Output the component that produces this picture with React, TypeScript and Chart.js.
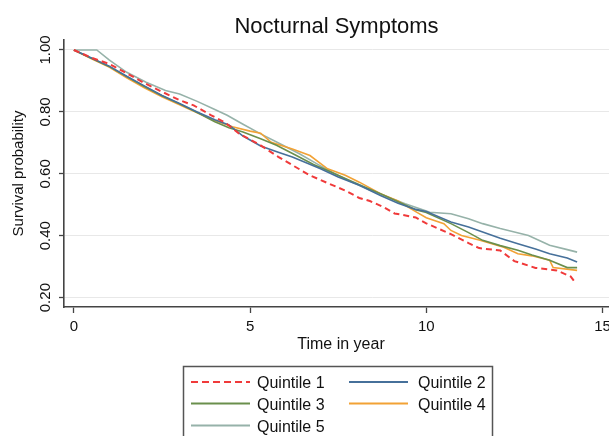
import React, { useEffect, useRef } from "react";
import { Chart, registerables } from "chart.js";

Chart.register(...registerables);

const FONT = '"Liberation Sans", Arial, Helvetica, sans-serif';

const titleText = "Nocturnal Symptoms";
const xTitle = "Time in year";
const yTitle = "Survival probability";

const seriesNames = ["Quintile 1", "Quintile 2", "Quintile 3", "Quintile 4", "Quintile 5"];
const seriesColors = ["#f03a3a", "#46709a", "#6a8f4c", "#f2a235", "#96b2a9"];

const xTicks = [0, 5, 10, 15];
const xTickLabels = ["0", "5", "10", "15"];
const yTicks = [0.2, 0.4, 0.6, 0.8, 1.0];
const yTickLabels = ["0.20", "0.40", "0.60", "0.80", "1.00"];

// Quintile 1
const q1Time = [0, 0.5, 1.0, 1.5, 2.0, 2.5, 3.0, 3.4, 3.9, 4.3, 4.7, 5.3, 5.8, 6.2, 6.7, 7.2, 7.7, 8.1, 8.4, 8.8, 9.1, 9.7, 10.0, 10.4, 10.7, 11.2, 11.5, 12.1, 12.5, 13.1, 13.7, 14.1, 14.25];
const q1Surv = [1.0, 0.975, 0.955, 0.925, 0.893, 0.865, 0.838, 0.821, 0.789, 0.765, 0.729, 0.692, 0.655, 0.628, 0.595, 0.57, 0.546, 0.522, 0.512, 0.492, 0.472, 0.459, 0.44, 0.42, 0.405, 0.376, 0.36, 0.352, 0.318, 0.296, 0.288, 0.268, 0.245];
// Quintile 2
const q2Time = [0, 0.5, 1, 1.5, 2, 2.5, 3, 3.5, 4, 4.4, 4.8, 5.3, 5.8, 6.2, 7.0, 7.5, 8.1, 8.7, 9.2, 9.7, 10.0, 10.7, 11.2, 11.6, 12.1, 12.6, 13.1, 13.5, 14.0, 14.28];
const q2Surv = [1, 0.974, 0.948, 0.915, 0.884, 0.853, 0.827, 0.8, 0.775, 0.758, 0.722, 0.69, 0.67, 0.654, 0.616, 0.59, 0.563, 0.53, 0.505, 0.485, 0.478, 0.444, 0.428, 0.412, 0.392, 0.374, 0.357, 0.342, 0.328, 0.315];
// Quintile 3
const q3Time = [0, 0.5, 1, 1.5, 2, 2.5, 3, 3.5, 4, 4.4, 4.8, 5.3, 5.75, 6.3, 6.8, 7.2, 7.7, 8.2, 8.7, 9.2, 9.7, 10.0, 10.7, 11.2, 11.6, 12.1, 12.6, 13.0, 13.5, 14.0, 14.28];
const q3Surv = [1, 0.973, 0.947, 0.914, 0.882, 0.852, 0.826, 0.798, 0.768, 0.749, 0.735, 0.713, 0.692, 0.66, 0.63, 0.611, 0.585, 0.56, 0.536, 0.51, 0.484, 0.475, 0.439, 0.41, 0.385, 0.368, 0.353, 0.338, 0.321, 0.297, 0.297];
// Quintile 4
const q4Time = [0, 0.5, 1, 1.5, 2, 2.5, 3, 3.5, 4, 4.5, 5, 5.3, 5.6, 6.2, 6.7, 7.2, 7.7, 8.1, 8.7, 9.2, 9.7, 10.0, 10.5, 10.7, 11.0, 11.5, 12.2, 12.6, 13.0, 13.5, 13.6, 14.28];
const q4Surv = [1, 0.972, 0.945, 0.91, 0.878, 0.849, 0.823, 0.797, 0.772, 0.752, 0.738, 0.731, 0.702, 0.68, 0.659, 0.616, 0.595, 0.573, 0.536, 0.512, 0.478, 0.458, 0.439, 0.417, 0.401, 0.386, 0.363, 0.342, 0.335, 0.321, 0.297, 0.288];
// Quintile 5
const q5Time = [0, 0.65, 1.0, 1.5, 2.05, 2.6, 3.0, 3.5, 4.0, 4.35, 4.8, 5.3, 5.85, 6.4, 6.9, 7.4, 7.9, 8.4, 8.9, 9.4, 9.9, 10.1, 10.7, 11.2, 11.6, 12.1, 12.9, 13.3, 13.5, 14.0, 14.28];
const q5Surv = [1, 1.0, 0.968, 0.928, 0.896, 0.869, 0.858, 0.834, 0.808, 0.789, 0.76, 0.729, 0.697, 0.665, 0.632, 0.6, 0.573, 0.548, 0.525, 0.503, 0.484, 0.476, 0.471, 0.455, 0.439, 0.423, 0.401, 0.38, 0.369, 0.355, 0.347];

const seriesTimes = [q1Time, q2Time, q3Time, q4Time, q5Time];
const seriesSurv = [q1Surv, q2Surv, q3Surv, q4Surv, q5Surv];

const W = 680;
const H = 470;

const textPlugin = {
  id: "customText",
  afterDraw(chart: any) {
    const ctx = chart.ctx as CanvasRenderingContext2D;
    const xs = chart.scales.x;
    const ys = chart.scales.y;
    const area = chart.chartArea;
    ctx.save();
    ctx.fillStyle = "#111";

    // title
    ctx.font = `22px ${FONT}`;
    ctx.textAlign = "center";
    ctx.textBaseline = "alphabetic";
    ctx.fillText(titleText, 336.5, 33);

    // x tick labels
    ctx.font = `15px ${FONT}`;
    ctx.textBaseline = "middle";
    xTicks.forEach((v, i) => {
      ctx.fillText(xTickLabels[i], xs.getPixelForValue(v), area.bottom + 20);
    });

    // y tick labels (rotated)
    yTicks.forEach((v, i) => {
      ctx.save();
      ctx.translate(area.left - 18, ys.getPixelForValue(v));
      ctx.rotate(-Math.PI / 2);
      ctx.textAlign = "center";
      ctx.textBaseline = "middle";
      ctx.fillText(yTickLabels[i], 0, 0);
      ctx.restore();
    });

    // axis titles
    ctx.font = `16px ${FONT}`;
    ctx.fillText(xTitle, 341, area.bottom + 38);
    ctx.save();
    ctx.font = `15px ${FONT}`;
    ctx.translate(19, (area.top + area.bottom) / 2);
    ctx.rotate(-Math.PI / 2);
    ctx.fillText(yTitle, 0, 0);
    ctx.restore();

    // legend box
    const bx = 183.5, by = 366.5, bw = 309, bh = 120;
    ctx.fillStyle = "#fff";
    ctx.fillRect(bx, by, bw, bh);
    ctx.strokeStyle = "#555";
    ctx.lineWidth = 1.5;
    ctx.strokeRect(bx, by, bw, bh);

    const cols = [
      { lx0: 191, lx1: 250, tx: 257 },
      { lx0: 349, lx1: 408, tx: 418 },
    ];
    const rows = [384, 405.5, 427.5];
    ctx.font = `16px ${FONT}`;
    ctx.textAlign = "left";
    ctx.textBaseline = "middle";
    seriesNames.forEach((name, i) => {
      const c = cols[i % 2];
      const ry = rows[Math.floor(i / 2)];
      ctx.beginPath();
      ctx.strokeStyle = seriesColors[i];
      ctx.lineWidth = 2;
      ctx.setLineDash(i === 0 ? [7, 4] : []);
      ctx.moveTo(c.lx0, ry - 2);
      ctx.lineTo(c.lx1, ry - 2);
      ctx.stroke();
      ctx.setLineDash([]);
      ctx.fillStyle = "#111";
      ctx.fillText(name, c.tx, ry);
    });
    ctx.restore();
  },
};

export default function App() {
  const canvasRef = useRef<HTMLCanvasElement | null>(null);

  useEffect(() => {
    const canvas = canvasRef.current;
    if (!canvas) return;
    const datasets = seriesNames.map((name, i) => ({
      label: name,
      data: seriesTimes[i].map((t, j) => ({ x: t, y: seriesSurv[i][j] })),
      borderColor: seriesColors[i],
      backgroundColor: seriesColors[i],
      borderWidth: i === 0 ? 2 : 1.6,
      borderDash: i === 0 ? [6, 4] : [],
      pointRadius: 0,
      tension: 0,
      fill: false,
    }));
    const chart = new Chart(canvas, {
      type: "line",
      data: { datasets },
      options: {
        animation: false,
        responsive: false,
        devicePixelRatio: 1,
        layout: { padding: { top: 40, left: 0, right: 0, bottom: H - 357 } },
        plugins: {
          legend: { display: false },
          title: { display: false },
          tooltip: { enabled: false },
        },
        scales: {
          x: {
            type: "linear",
            min: -0.28,
            max: 17.2,
            afterBuildTicks: (s: any) => {
              s.ticks = xTicks.map((v) => ({ value: v }));
            },
            afterFit: (s: any) => {
              s.height = 50;
            },
            ticks: { display: false },
            grid: {
              display: true,
              drawOnChartArea: false,
              drawTicks: true,
              tickLength: 6,
              tickColor: "#444",
              tickWidth: 1.3,
            },
            border: { display: true, color: "#444", width: 1.6 },
          },
          y: {
            type: "linear",
            min: 0.1697,
            max: 1.0323,
            afterBuildTicks: (s: any) => {
              s.ticks = yTicks.map((v) => ({ value: v }));
            },
            afterFit: (s: any) => {
              s.width = 64;
            },
            ticks: { display: false },
            grid: {
              display: true,
              color: "#e8e8e8",
              lineWidth: 1,
              drawTicks: true,
              tickLength: 5,
              tickColor: "#444",
              tickWidth: 1.3,
            },
            border: { display: true, color: "#444", width: 1.6 },
          },
        },
      },
      plugins: [textPlugin],
    } as any);
    return () => chart.destroy();
  }, []);

  return (
    <div style={{ position: "relative", width: 609, height: 436, overflow: "hidden", background: "#fff" }}>
      <style>{`body{margin:0;background:#fff}`}</style>
      <canvas ref={canvasRef} width={W} height={H} style={{ width: W, height: H, display: "block" }} />
    </div>
  );
}
